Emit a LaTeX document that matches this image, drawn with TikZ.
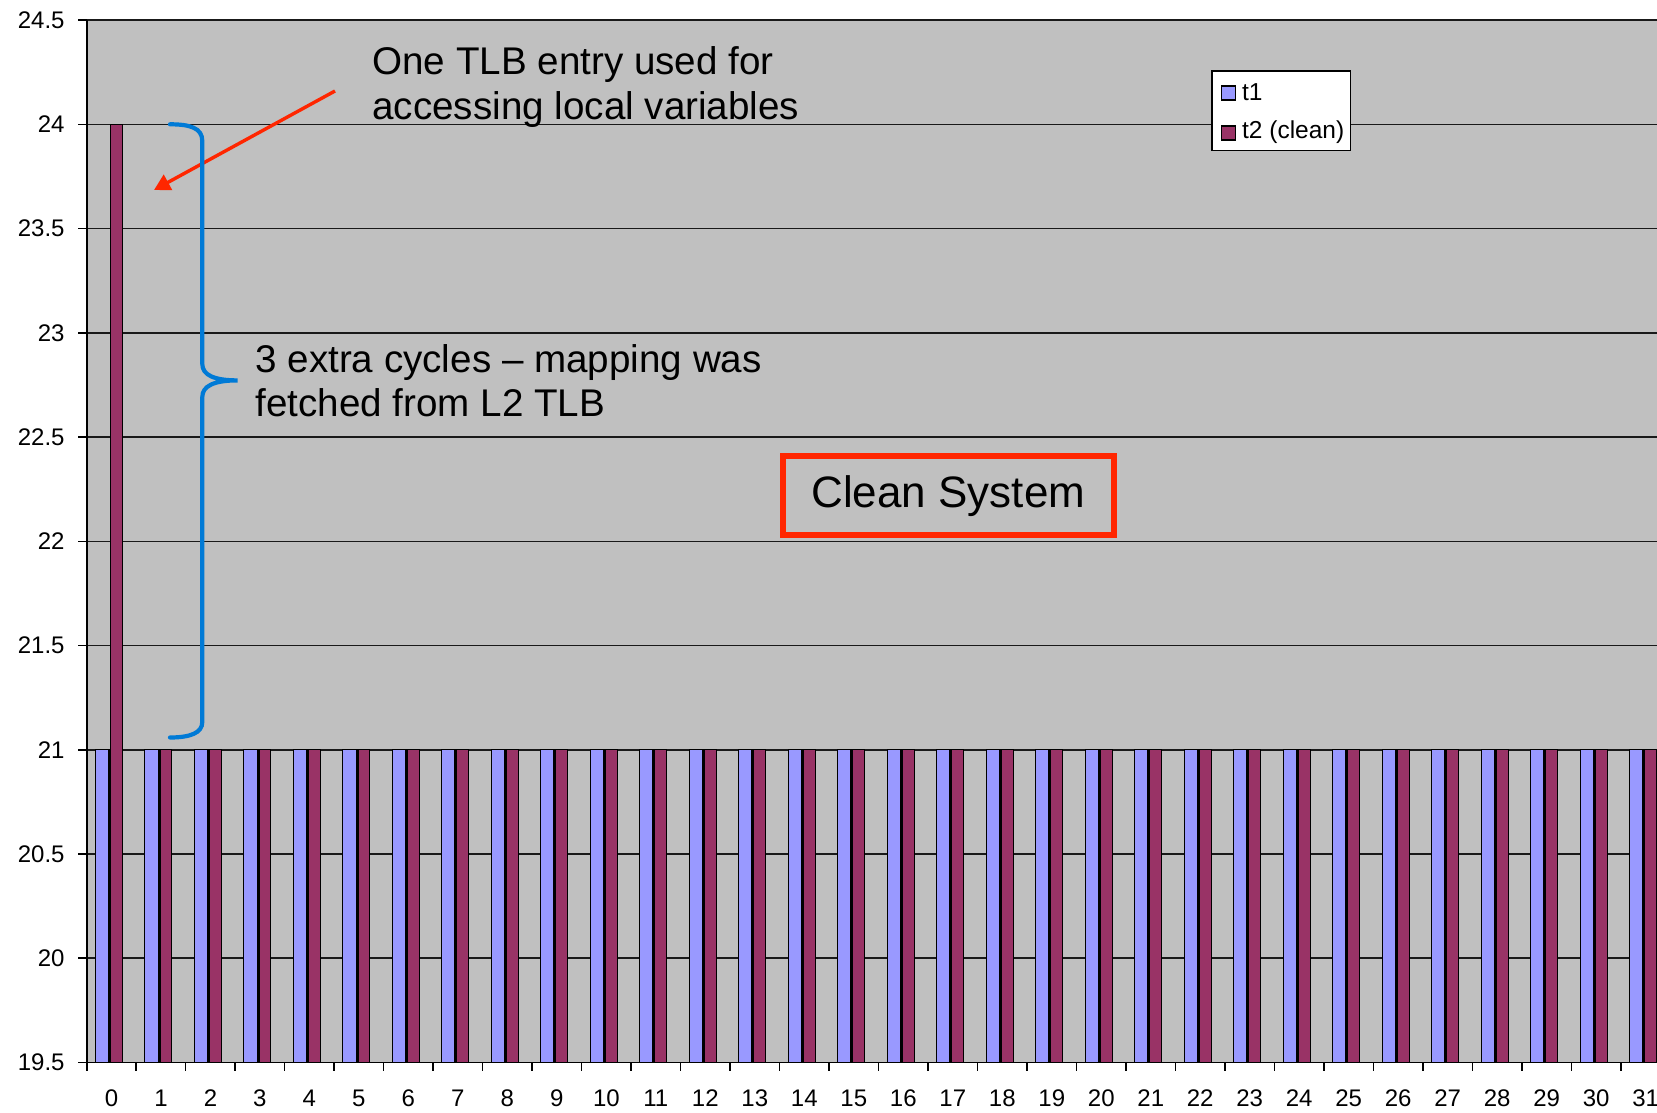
\documentclass[tikz,border=0pt]{standalone}
\usepackage{fontspec}
\setmainfont{Liberation Sans}
\usetikzlibrary{arrows.meta}
\definecolor{plotgray}{RGB}{192,192,192}
\definecolor{tone}{RGB}{153,153,255}
\definecolor{ttwo}{RGB}{153,51,102}
\definecolor{annred}{RGB}{255,38,0}
\definecolor{braceblue}{RGB}{0,122,214}
\tikzset{
  gridline/.style={line width=0.8pt, black!90},
  axisline/.style={line width=0.8pt, black},
  ticklab/.style={inner sep=0pt, font=\fontsize{12pt}{14pt}\selectfont},
  annot/.style={inner sep=0pt, anchor=base west, font=\fontsize{19.3pt}{23pt}\selectfont},
  legtext/.style={inner sep=0pt, anchor=base west, font=\fontsize{12.25pt}{14pt}\selectfont},
  legsq/.style={draw=black, line width=0.6pt, minimum size=7pt, inner sep=0pt},
}
\begin{document}
\begin{tikzpicture}[x=0.5pt,y=-0.5pt]
\useasboundingbox (0,0) rectangle (1657,1112);
\clip (0,0) rectangle (1657,1112);
\fill[white] (0,0) rectangle (1657,1112);
% plot area
\fill[plotgray] (86.7,20.3) rectangle (1700,1062.3);
% gridlines
\foreach \i in {1,...,10} {
  \draw[gridline] (86.7,{1062.3-\i*104.2}) -- (1700,{1062.3-\i*104.2});
}
% bars
\foreach \k in {0,...,31} {
  \pgfmathsetmacro\c{86.7+(\k+0.5)*49.49}
  \pgfmathsetmacro\tp{\k==0 ? 124.5 : 749.7}
  \fill[black] (\c-16.6,749.2) rectangle (\c-1.4,1062.3);
  \fill[tone] (\c-15.6,750.2) rectangle (\c-3.4,1062.3);
  \fill[black] (\c-1.4,\tp-0.5) rectangle (\c+11.5,1062.3);
  \fill[ttwo] (\c-0.4,\tp+0.5) rectangle (\c+10.5,1062.3);
  \node[ticklab] (xl\k) at (\c,1098) {\k};
}
% axes
\draw[axisline] (86.7,20.3) -- (86.7,1062.3);
\draw[axisline] (86.7,1062.3) -- (1700,1062.3);
\foreach \i/\lab in {0/19.5,1/20,2/20.5,3/21,4/21.5,5/22,6/22.5,7/23,8/23.5,9/24,10/24.5} {
  \draw[axisline] (78,{1062.3-\i*104.2}) -- (86.7,{1062.3-\i*104.2});
  \node[ticklab, anchor=east] (yl\i) at (65,{1062.3-\i*104.2}) {\lab};
}
\foreach \k in {0,...,33} {
  \draw[axisline] ({86.7+\k*49.49},1062.3) -- ({86.7+\k*49.49},1070.5);
}
% legend
\node[draw=black, fill=white, line width=0.75pt, minimum width=69.35pt, minimum height=39.85pt, inner sep=0pt] (legend) at (1281.35,110.85) {};
\node[legsq, fill=tone] (sq1) at (1228.2,93) {};
\node[legsq, fill=ttwo] (sq2) at (1228.2,133) {};
\node[legtext] (lt1) at (1241.7,100.5) {t1};
\node[legtext] (lt2) at (1241.7,139) {t2 (clean)};
% annotations
\node[annot] (a1) at (372,74.3) {One TLB entry used for};
\node[annot] (a2) at (372,120) {accessing local variables};
\node[annot] (b1) at (255,372.3) {3 extra cycles – mapping was};
\node[annot] (b2) at (255,416) {fetched from L2 TLB};
\node[draw=annred, line width=3pt, minimum width=165.35pt, minimum height=39.5pt, inner sep=0pt,
      font=\fontsize{22pt}{26pt}\selectfont] (clean) at (948.3,495.8) {Clean System};
% arrow
\coordinate (arrS) at (335,91);
\coordinate (arrE) at (154,190);
\draw[annred, line width=1.7pt, -{Triangle[length=8pt,width=8.5pt]}] (arrS) -- (arrE);
% brace
\draw[braceblue, line width=2.1pt, line cap=round]
  (170,124.3) .. controls (190,124.3) and (202.3,128) .. (202.3,141)
  -- (202.3,364)
  .. controls (202.3,375) and (214,380.4) .. (237.5,380.4)
  .. controls (214,380.4) and (202.3,386) .. (202.3,397)
  -- (202.3,722)
  .. controls (202.3,733) and (190,737.5) .. (170,737.5);
\end{tikzpicture}
\end{document}
